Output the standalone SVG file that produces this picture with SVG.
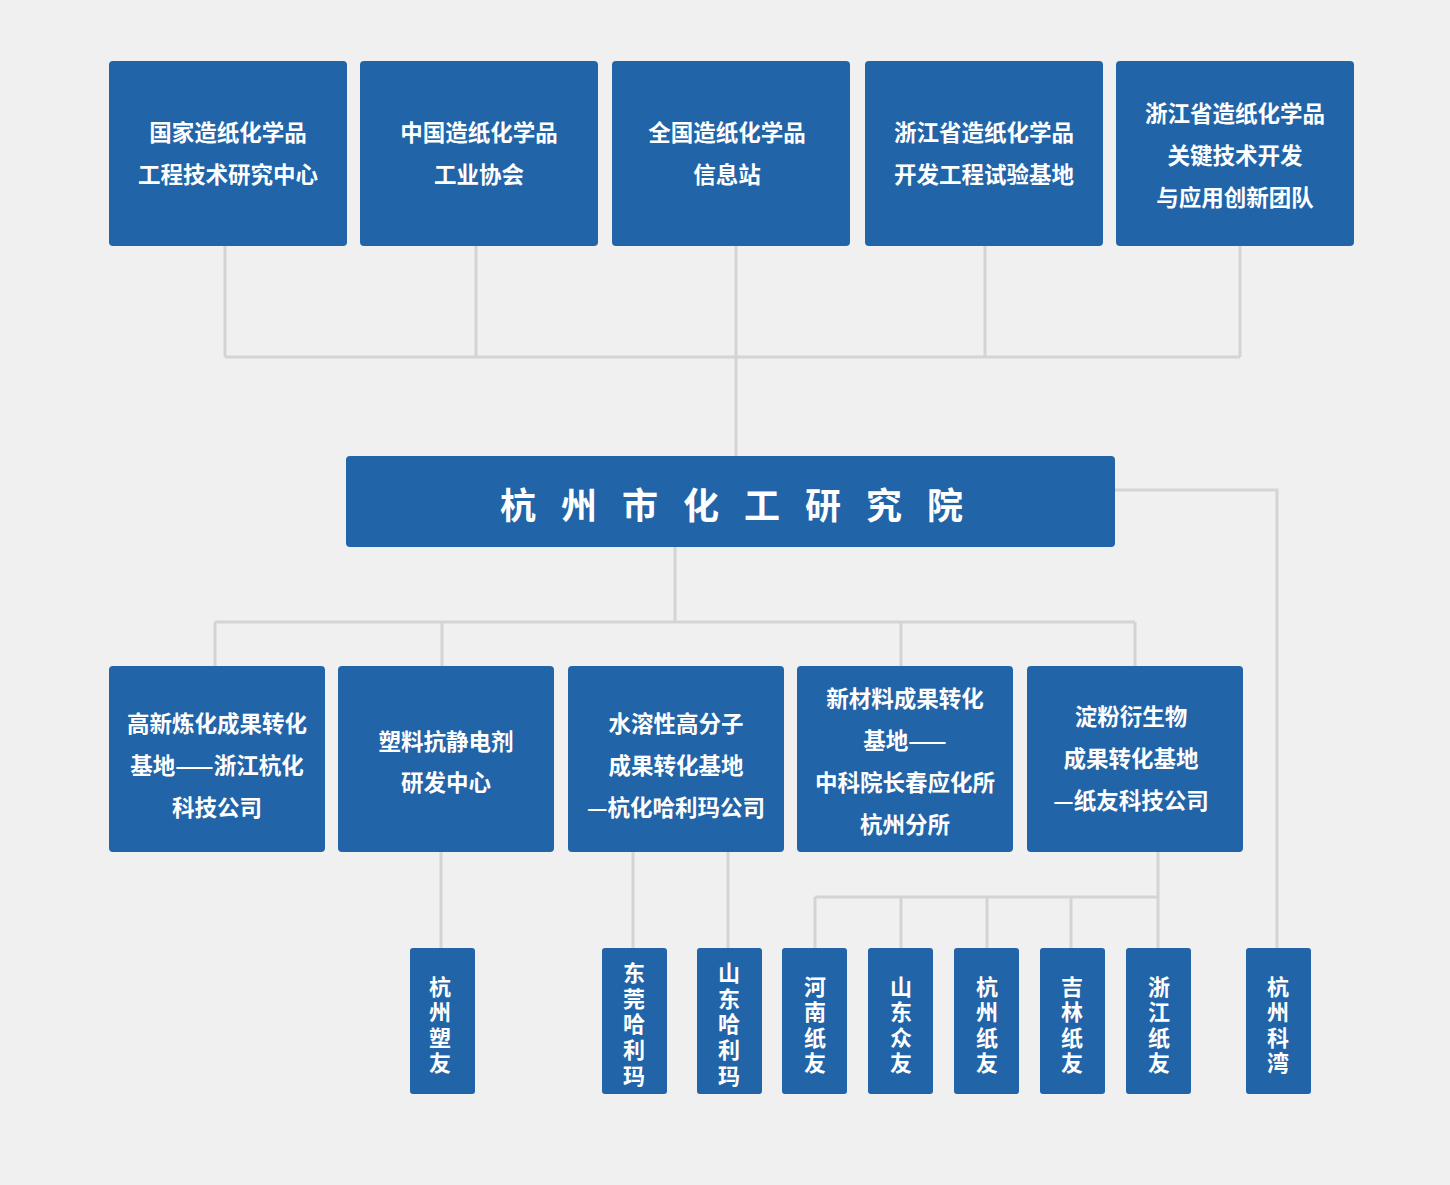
<svg xmlns="http://www.w3.org/2000/svg" width="1450" height="1185" viewBox="0 0 1450 1185">
<style>
.bg{fill:#f0f0f0}
.box{fill:#2264a8}
.t{fill:#ffffff;font-family:"Noto Sans CJK SC","Noto Sans",sans-serif;font-size:22.5px;font-weight:700;text-anchor:middle;dominant-baseline:central}
.v{font-size:22px}
.big{font-size:36px;letter-spacing:25px}
.conn{fill:none;stroke:#d4d4d4;stroke-width:3}
</style>
<rect class="bg" x="0" y="0" width="1450" height="1185"/>
<g id="connectors">
<path class="conn" d="M225 246V357M476 246V357M736 246V456M985 246V357M1240 246V357M225 357H1240"/>
<path class="conn" d="M1115 490H1277V948"/>
<path class="conn" d="M675 547V622M215 622H1135M215 622V666M442 622V666M901 622V666M1135 622V666"/>
<path class="conn" d="M441 852V948M633 852V948M728 852V948"/>
<path class="conn" d="M1158 852V948M815 897H1158M815 897V948M901 897V948M987 897V948M1071 897V948"/>
</g>
<g id="n1"><rect class="box" x="109" y="61" width="238" height="185" rx="4"/><text class="t" x="228" y="131">国家造纸化学品</text><text class="t" x="228" y="173">工程技术研究中心</text></g>
<g id="n2"><rect class="box" x="360" y="61" width="238" height="185" rx="4"/><text class="t" x="479" y="131">中国造纸化学品</text><text class="t" x="479" y="173">工业协会</text></g>
<g id="n3"><rect class="box" x="612" y="61" width="238" height="185" rx="4"/><text class="t" x="727" y="131">全国造纸化学品</text><text class="t" x="727" y="173">信息站</text></g>
<g id="n4"><rect class="box" x="865" y="61" width="238" height="185" rx="4"/><text class="t" x="984" y="131">浙江省造纸化学品</text><text class="t" x="984" y="173">开发工程试验基地</text></g>
<g id="n5"><rect class="box" x="1116" y="61" width="238" height="185" rx="4"/><text class="t" x="1235" y="112">浙江省造纸化学品</text><text class="t" x="1235" y="154">关键技术开发</text><text class="t" x="1235" y="196">与应用创新团队</text></g>
<g id="center"><rect class="box" x="346" y="456" width="769" height="91" rx="4"/><text class="t big" x="744" y="503">杭州市化工研究院</text></g>
<g id="m1"><rect class="box" x="109" y="666" width="216" height="186" rx="4"/><text class="t" x="217" y="722">高新炼化成果转化</text><text class="t" x="217" y="764">基地——浙江杭化</text><text class="t" x="217" y="806">科技公司</text></g>
<g id="m2"><rect class="box" x="338" y="666" width="216" height="186" rx="4"/><text class="t" x="446" y="740">塑料抗静电剂</text><text class="t" x="446" y="781">研发中心</text></g>
<g id="m3"><rect class="box" x="568" y="666" width="216" height="186" rx="4"/><text class="t" x="676" y="722">水溶性高分子</text><text class="t" x="676" y="764">成果转化基地</text><text class="t" x="676" y="806">—杭化哈利玛公司</text></g>
<g id="m4"><rect class="box" x="797" y="666" width="216" height="186" rx="4"/><text class="t" x="905" y="697">新材料成果转化</text><text class="t" x="905" y="739">基地——</text><text class="t" x="905" y="781">中科院长春应化所</text><text class="t" x="905" y="823">杭州分所</text></g>
<g id="m5"><rect class="box" x="1027" y="666" width="216" height="186" rx="4"/><text class="t" x="1131" y="715">淀粉衍生物</text><text class="t" x="1131" y="757">成果转化基地</text><text class="t" x="1131" y="799">—纸友科技公司</text></g>
<g id="s1"><rect class="box" x="410" y="948" width="65" height="146" rx="3"/><text class="t v"><tspan x="440" y="985">杭</tspan><tspan x="440" y="1010">州</tspan><tspan x="440" y="1036">塑</tspan><tspan x="440" y="1061">友</tspan></text></g>
<g id="s2"><rect class="box" x="602" y="948" width="65" height="146" rx="3"/><text class="t v"><tspan x="634" y="971">东</tspan><tspan x="634" y="997">莞</tspan><tspan x="634" y="1022">哈</tspan><tspan x="634" y="1048">利</tspan><tspan x="634" y="1074">玛</tspan></text></g>
<g id="s3"><rect class="box" x="697" y="948" width="65" height="146" rx="3"/><text class="t v"><tspan x="729" y="971">山</tspan><tspan x="729" y="997">东</tspan><tspan x="729" y="1022">哈</tspan><tspan x="729" y="1048">利</tspan><tspan x="729" y="1074">玛</tspan></text></g>
<g id="s4"><rect class="box" x="782" y="948" width="65" height="146" rx="3"/><text class="t v"><tspan x="815" y="985">河</tspan><tspan x="815" y="1010">南</tspan><tspan x="815" y="1036">纸</tspan><tspan x="815" y="1061">友</tspan></text></g>
<g id="s5"><rect class="box" x="868" y="948" width="65" height="146" rx="3"/><text class="t v"><tspan x="901" y="985">山</tspan><tspan x="901" y="1010">东</tspan><tspan x="901" y="1036">众</tspan><tspan x="901" y="1061">友</tspan></text></g>
<g id="s6"><rect class="box" x="954" y="948" width="65" height="146" rx="3"/><text class="t v"><tspan x="987" y="985">杭</tspan><tspan x="987" y="1010">州</tspan><tspan x="987" y="1036">纸</tspan><tspan x="987" y="1061">友</tspan></text></g>
<g id="s7"><rect class="box" x="1040" y="948" width="65" height="146" rx="3"/><text class="t v"><tspan x="1072" y="985">吉</tspan><tspan x="1072" y="1010">林</tspan><tspan x="1072" y="1036">纸</tspan><tspan x="1072" y="1061">友</tspan></text></g>
<g id="s8"><rect class="box" x="1126" y="948" width="65" height="146" rx="3"/><text class="t v"><tspan x="1159" y="985">浙</tspan><tspan x="1159" y="1010">江</tspan><tspan x="1159" y="1036">纸</tspan><tspan x="1159" y="1061">友</tspan></text></g>
<g id="s9"><rect class="box" x="1246" y="948" width="65" height="146" rx="3"/><text class="t v"><tspan x="1278" y="985">杭</tspan><tspan x="1278" y="1010">州</tspan><tspan x="1278" y="1036">科</tspan><tspan x="1278" y="1061">湾</tspan></text></g>
</svg>
